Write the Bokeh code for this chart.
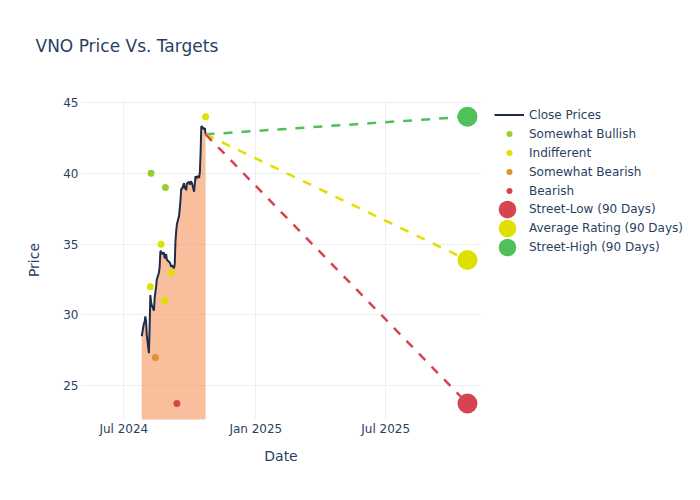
import pandas as pd
from bokeh.plotting import figure
from bokeh.layouts import row
from bokeh.models import (Range1d, FixedTicker, DatetimeTickFormatter, Legend,
                          LegendItem)
from bokeh.embed import file_html
from bokeh.resources import INLINE

# ---------------- data ----------------
close_dates = pd.bdate_range("2024-07-26", "2024-10-23", freq="C",
                             holidays=["2024-09-02"])
close_prices = [28.5, 29.4, 29.5, 29.9, 29.6, 28.6, 27.3, 29.2, 31.4, 30.9,
                30.7, 30.3, 31.2, 31.6, 32.0, 32.5, 33.0, 33.4, 34.5, 34.5,
                34.3, 34.4, 34.0, 34.1, 34.3, 33.9, 33.7, 33.6, 33.4, 33.5,
                33.3, 33.6, 35.2, 35.9, 36.4, 37.0, 37.5, 38.1, 38.9, 38.9,
                39.3, 38.9, 39.1, 38.8, 39.3, 39.4, 39.2, 39.4, 39.4, 39.3,
                38.7, 39.3, 39.8, 39.6, 39.8, 39.7, 40.1, 41.4, 43.3, 43.3,
                43.1, 43.2, 42.75]

bullish_dates = ["2024-08-08", "2024-08-28"]
bullish_prices = [40, 39]
indifferent_dates = ["2024-08-07", "2024-08-22", "2024-08-27", "2024-09-05", "2024-10-23"]
indifferent_prices = [32, 35, 31, 33, 44]
sw_bearish_dates = ["2024-08-14"]
sw_bearish_prices = [27]
bearish_dates = ["2024-09-13"]
bearish_prices = [23.75]

target_date = "2025-10-23"
street_low = 23.75
average_rating = 33.88
street_high = 44.0

x_tick_dates = ["2024-07-01", "2025-01-01", "2025-07-01"]
y_ticks = [25, 30, 35, 40, 45]

# ---------------- styling ----------------
FONT = "DejaVu Sans"
TXT = "#2a3f5f"
GRID = "#EBF0F8"
C_LINE = "#1f2b47"
C_FILL = "#F37F39"
C_BULL = "#9ACD32"
C_IND = "#E0E000"
C_SWBEAR = "#E0922E"
C_BEAR = "#D6444F"
C_HIGH = "#4FC05A"

def ts(s):
    return pd.Timestamp(s)

x_start = pd.Timestamp("2024-07-01") - pd.Timedelta(days=60.35)
x_end = x_start + pd.Timedelta(days=401 / 0.7175)

p = figure(frame_width=401, frame_height=319,
           min_border_left=80, min_border_right=0,
           min_border_top=100, min_border_bottom=65,
           x_axis_type="datetime", output_backend="svg",
           toolbar_location=None,
           x_range=Range1d(x_start, x_end),
           y_range=Range1d(22.62, 45.14))
p.outline_line_color = None
p.background_fill_color = "white"
p.border_fill_color = "white"

p.title.text = "VNO Price Vs. Targets"
p.title.align = "left"
p.title.offset = -45
p.title.standoff = 50
p.title.padding = dict(left=0, right=0, top=0, bottom=20)
p.title.text_font = FONT
p.title.text_font_size = "17px"
p.title.text_font_style = "normal"
p.title.text_color = TXT

xt = FixedTicker(ticks=[ts(d).value / 1e6 for d in x_tick_dates])
p.xaxis.ticker = xt
p.xgrid.ticker = xt
p.yaxis.ticker = FixedTicker(ticks=y_ticks)
p.xaxis.formatter = DatetimeTickFormatter(days="%b %Y", months="%b %Y", years="%b %Y")
for g in (p.xgrid, p.ygrid):
    g.grid_line_color = GRID
    g.grid_line_width = 1
for ax in (p.xaxis, p.yaxis):
    ax.axis_line_color = None
    ax.major_tick_line_color = None
    ax.minor_tick_line_color = None
    ax.major_tick_out = 0
    ax.major_tick_in = 0
    ax.major_label_text_font = FONT
    ax.major_label_text_font_size = "12px"
    ax.major_label_text_color = TXT
    ax.axis_label_text_font = FONT
    ax.axis_label_text_font_size = "14px"
    ax.axis_label_text_color = TXT
    ax.axis_label_text_font_style = "normal"
p.xaxis.axis_label = "Date"
p.yaxis.axis_label = "Price"
p.xaxis.major_label_standoff = 2
p.xaxis.axis_label_standoff = 9
p.yaxis.major_label_standoff = 2
p.yaxis.axis_label_standoff = 18

# area + close line
p.varea(x=close_dates, y1=0, y2=close_prices, fill_color=C_FILL, fill_alpha=0.5)
p.line(close_dates, close_prices, line_color=C_LINE, line_width=2)

# dashed target lines
last_date = close_dates[-1]
last_close = close_prices[-1]
p.line([last_date, ts(target_date)], [last_close, street_high],
       line_color=C_HIGH, line_width=2.5, line_dash="9 9")
p.line([last_date, ts(target_date)], [last_close, average_rating],
       line_color=C_IND, line_width=2.5, line_dash="9 9")
p.line([last_date, ts(target_date)], [last_close, street_low],
       line_color=C_BEAR, line_width=2.5, line_dash="9 9")

# rating points
p.scatter(pd.to_datetime(bullish_dates), bullish_prices, size=7,
          fill_color=C_BULL, line_color=None)
p.scatter(pd.to_datetime(indifferent_dates), indifferent_prices, size=7,
          fill_color=C_IND, line_color=None)
p.scatter(pd.to_datetime(sw_bearish_dates), sw_bearish_prices, size=7,
          fill_color=C_SWBEAR, line_color=None)
p.scatter(pd.to_datetime(bearish_dates), bearish_prices, size=7,
          fill_color=C_BEAR, line_color=None)

# targets
p.scatter([ts(target_date)], [street_low], size=20, fill_color=C_BEAR, line_color=None)
p.scatter([ts(target_date)], [average_rating], size=20, fill_color=C_IND, line_color=None)
p.scatter([ts(target_date)], [street_high], size=20, fill_color=C_HIGH, line_color=None)

# ---------------- legend panel ----------------
LW, LH = 210, 484
lf = figure(width=LW, height=LH, output_backend="svg", toolbar_location=None,
            x_range=Range1d(0, LW), y_range=Range1d(0, LH),
            min_border=0, min_border_left=0, min_border_right=0,
            min_border_top=0, min_border_bottom=0)
lf.axis.visible = False
lf.grid.visible = False
lf.outline_line_color = None
lf.background_fill_color = "white"
lf.border_fill_color = "white"

NAN = [float("nan")]
k_close = lf.line(NAN, NAN, line_color=C_LINE, line_width=2)
k_bull = lf.scatter(NAN, NAN, fill_color=C_BULL, line_color=None)
k_ind = lf.scatter(NAN, NAN, fill_color=C_IND, line_color=None)
k_swb = lf.scatter(NAN, NAN, fill_color=C_SWBEAR, line_color=None)
k_bear = lf.scatter(NAN, NAN, fill_color=C_BEAR, line_color=None)
k_low = lf.scatter(NAN, NAN, fill_color=C_BEAR, line_color=None)
k_avg = lf.scatter(NAN, NAN, fill_color=C_IND, line_color=None)
k_high = lf.scatter(NAN, NAN, fill_color=C_HIGH, line_color=None)

def style_legend(lg):
    lg.padding = 0
    lg.margin = 0
    lg.border_line_alpha = 0
    lg.background_fill_alpha = 0
    lg.label_text_font = FONT
    lg.label_text_font_size = "12px"
    lg.label_text_color = TXT
    return lg

leg_a = style_legend(Legend(items=[
    LegendItem(label="Close Prices", renderers=[k_close]),
    LegendItem(label="Somewhat Bullish", renderers=[k_bull]),
    LegendItem(label="Indifferent", renderers=[k_ind]),
    LegendItem(label="Somewhat Bearish", renderers=[k_swb]),
    LegendItem(label="Bearish", renderers=[k_bear]),
], location=(13, 221)))
leg_a.glyph_width = 30
leg_a.glyph_height = 15
leg_a.label_height = 15
leg_a.spacing = 4
leg_a.label_standoff = 5
lf.add_layout(leg_a)

for lab, rr, yb in [("Street-Low (90 Days)", k_low, 185),
                    ("Average Rating (90 Days)", k_avg, 166),
                    ("Street-High (90 Days)", k_high, 147)]:
    lg = style_legend(Legend(items=[LegendItem(label=lab, renderers=[rr])],
                             location=(4, yb)))
    lg.glyph_width = 44
    lg.glyph_height = 50
    lg.label_height = 50
    lg.label_standoff = 0
    lf.add_layout(lg)

layout = row(p, lf, spacing=0)
open("out.html", "w").write(file_html(layout, INLINE))
